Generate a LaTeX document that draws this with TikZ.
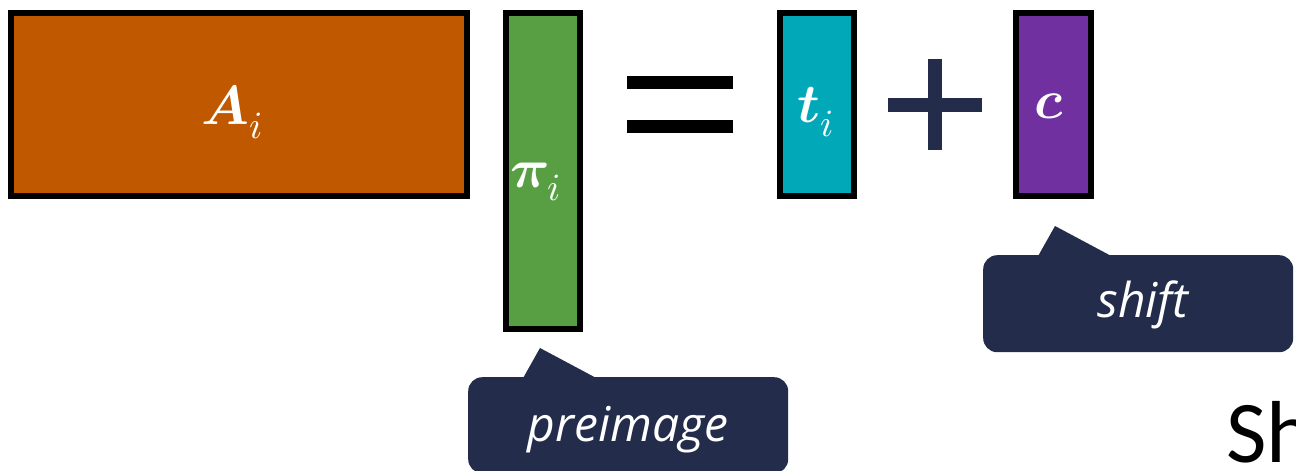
\documentclass[tikz,border=0pt]{standalone}
\usepackage{fontspec}
\usepackage{unicode-math}
\setmathfont{Latin Modern Math}
\newfontfamily\calloutfont{Open Sans}
\newfontfamily\shfont{Carlito}
\definecolor{matA}{HTML}{C05800}
\definecolor{matPi}{HTML}{589F43}
\definecolor{matT}{HTML}{00A8B8}
\definecolor{matC}{HTML}{7030A0}
\definecolor{navy}{HTML}{232C4B}
\begin{document}
\begin{tikzpicture}[x=1pt,y=-1pt,
  mbox/.style={draw=black, line width=6pt, inner sep=0pt, outer sep=0pt, anchor=north west},
  lbl/.style={text=white, font=\fontsize{55}{66}\selectfont, inner sep=0pt},
  callout/.style={fill=navy, draw=none, rounded corners=14pt, inner sep=0pt, anchor=north west},
  ctext/.style={text=white, font=\calloutfont\itshape\fontsize{48}{56}\selectfont, inner sep=0pt},
  opbar/.style={draw=none}]
\useasboundingbox (0,0) rectangle (1296,471);
\clip (0,0) rectangle (1296,471);
% matrices
\node[mbox, fill=matA, minimum width=456pt, minimum height=183pt] (A) at (11,13) {};
\node[mbox, fill=matPi, minimum width=74.5pt, minimum height=316pt] (Pi) at (505.5,13) {};
\node[mbox, fill=matT, minimum width=74pt, minimum height=183pt] (T) at (780,13) {};
\node[mbox, fill=matC, minimum width=75pt, minimum height=183pt] (C) at (1016,13) {};
% labels
\node[lbl] (Alab) at (232,112) {$\symbfit{A}_{i}$};
\node[lbl] (Pilab) at (536,182) {$\symbfit{\pi}_{i}$};
\node[lbl] (Tlab) at (816,112) {$\symbfit{t}_{i}$};
\node[lbl] (Clab) at (1049,106) {$\symbfit{c}$};
% equals sign
\fill[black] (627,76) rectangle (733,89);
\fill[black] (627,120) rectangle (733,133);
% plus sign
\fill[navy] (888,98) rectangle (982,112);
\fill[navy] (928,59) rectangle (942,150);
% callout: preimage
\node[callout, minimum width=320pt, minimum height=96pt] (pre) at (468,377) {};
\coordinate (preL) at (522,380);
\coordinate (preTip) at (540,348);
\coordinate (preR) at (600,380);
\fill[navy] (preL) -- (preTip) -- (preR) -- cycle;
\node[ctext] (pretext) at (628,430) {preimage};
% callout: shift
\node[callout, minimum width=310pt, minimum height=97pt] (sft) at (983,255) {};
\coordinate (sftL) at (1037,258);
\coordinate (sftTip) at (1055,226);
\coordinate (sftR) at (1115,258);
\fill[navy] (sftL) -- (sftTip) -- (sftR) -- cycle;
\node[ctext] (sfttext) at (1143,305) {shift};
% partial title text
\node[anchor=base west, inner sep=0pt, font=\shfont\fontsize{88}{100}\selectfont] (sh) at (1226,462) {Sh};
\end{tikzpicture}
\end{document}
